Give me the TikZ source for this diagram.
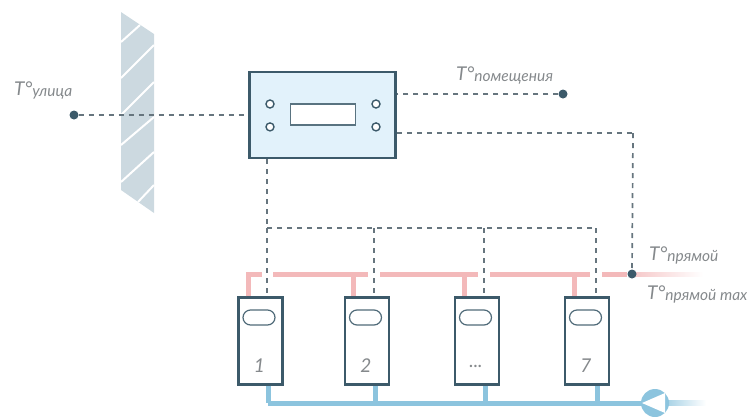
\documentclass[tikz,border=0pt]{standalone}
\usepackage{fontspec}
\setmainfont{Lato}
\usepackage{xcolor}
\usetikzlibrary{positioning, shapes.misc}
\definecolor{framecol}{HTML}{3C5A6A}
\definecolor{dashcol}{HTML}{66757E}
\definecolor{wallcol}{HTML}{CCD9E0}
\definecolor{hotcol}{HTML}{F3B9BA}
\definecolor{coldcol}{HTML}{8CC4DE}
\definecolor{textcol}{HTML}{85898C}
\definecolor{panelcol}{HTML}{E2F2FB}
\newcommand{\tempname}[1]{{\fontsize{19}{19}\selectfont\itshape T°}{\fontsize{15.5}{15.5}\selectfont\itshape\raisebox{-1pt}{#1}}}
\newcommand{\moreboilers}{...}

\begin{document}
\begin{tikzpicture}[x=1pt,y=-1pt,
    signal/.style={draw=dashcol,line width=1.7pt,dash pattern=on 5pt off 5pt},
    sensor/.style={circle,fill=framecol,minimum size=9pt,inner sep=0pt},
    lamp/.style={circle,draw=framecol,line width=1.4pt,fill=white,minimum size=8pt,inner sep=0pt},
    boiler/.style={rectangle,draw=framecol,line width=2.4pt,fill=white,minimum width=44pt,minimum height=87pt,inner sep=0pt},
    pill/.style={rounded rectangle,draw=framecol!90,line width=1.2pt,minimum width=32pt,minimum height=15pt,inner sep=0pt},
    digit/.style={text=textcol,font=\fontsize{19}{19}\selectfont\itshape,inner sep=0pt},
    tlabel/.style={text=textcol,inner sep=0pt,anchor=west},
    hot/.style={draw=hotcol,line width=5pt},
    cold/.style={draw=coldcol,line width=5pt}]
    \useasboundingbox (0,0) rectangle (747,416);

    \fill[wallcol] (121,12) -- (154,34) -- (154,213) -- (121,190) -- cycle;
    \foreach \xa/\ya/\xb/\yb in {121/42/140/25,121/78/154/45,121/115/154/82,121/145/154/117,121/182/154/152,138/202/154/185}
        \draw[white,line width=2pt] (\xa,\ya) -- (\xb,\yb);

    \node[rectangle,draw=framecol,line width=2.6pt,fill=panelcol,minimum width=146pt,minimum height=86pt,inner sep=0pt] (ctrl) at (322.5,115) {};
    \node[rectangle,draw=framecol!85,line width=1.4pt,fill=white,minimum width=65pt,minimum height=21pt,inner sep=0pt] (display) at (323,114.5) {};
    \node[lamp] (la) at (270,104) {};
    \node[lamp] (lb) [below=13.5pt of la] {};
    \node[lamp] (lc) at (376,104) {};
    \node[lamp] (ld) [below=13.5pt of lc] {};

    \node[sensor] (outdoor) at (74,115) {};
    \node[sensor] (room) at (563,94) {};

    \node[tlabel] (outdoorlab) at (14,90) {\tempname{улица}};
    \node[tlabel] (roomlab) at (456,75) {\tempname{помещения}};
    \node[tlabel] (flowlab) at (649,255) {\tempname{прямой}};
    \node[tlabel] (maxlab) at (647,294) {\tempname{прямой max}};

    \foreach \n/\x/\t in {1/260.5/1,2/367/2,3/477/\moreboilers,4/587/7} {
        \node[boiler] (b\n) at (\x,341) {};
        \node[pill] (p\n) at (\x-1.5,317.5) {};
        \node[digit] (d\n) at (\x-1,366) {\t};
    }

    \coordinate (pa) at (248,274);
    \coordinate (pb) at (262,274);
    \coordinate (pc) at (273,274);
    \coordinate (pd) at (368,274);
    \coordinate (pe) at (380,274);
    \coordinate (pf) at (478,274);
    \coordinate (pg) at (490,274);
    \coordinate (ph) at (590,274);
    \coordinate (pi) at (602,274);
    \path[left color=hotcol!80,right color=white] (632,272) rectangle (703,276);
    \node[sensor] (flow) at (632,274) {};
    \draw[hot] (b1.north -| pa) -- (pa) -- (pb);
    \draw[hot] (pc) -- (pd);
    \draw[hot] (pe) -- (pf);
    \draw[hot] (pg) -- (ph);
    \draw[hot] (pi) -- (flow);
    \foreach \x in {353,464,574}
        \draw[hot] (\x,274) -- (\x,296);

    \coordinate (ca) at (268,403);
    \draw[cold] (ca) -- (655,403);
    \draw[cold] (b1.south -| ca) -- (ca);
    \foreach \x in {375,485,597}
        \draw[cold] (\x,386) -- (\x,403);
    \path[left color=coldcol!80,right color=white] (665,400.5) rectangle (706,405.5);
    \node[circle,fill=coldcol,minimum size=28pt,inner sep=0pt] (pump) at (655,403) {};
    \fill[white] (642,403) -- (665,393) -- (665,413) -- cycle;

    \coordinate (ja) at (267,228);
    \coordinate (jb) at (374,228);
    \coordinate (jc) at (484,228);
    \coordinate (jd) at (596,228);
    \coordinate (tr) at (633,133);
    \path[signal] (outdoor) edge (ctrl.west |- outdoor)
          (room) edge (ctrl.east |- room)
          (ctrl.south -| ja) edge (ja)
          (ctrl.east |- tr) edge (tr)
          (tr) edge (flow)
          (ja) edge (jd)
          (ja) edge (b1.north -| ja)
          (jb) edge (b2.north -| jb)
          (jc) edge (b3.north -| jc)
          (jd) edge (b4.north -| jd);
\end{tikzpicture}
\end{document}
